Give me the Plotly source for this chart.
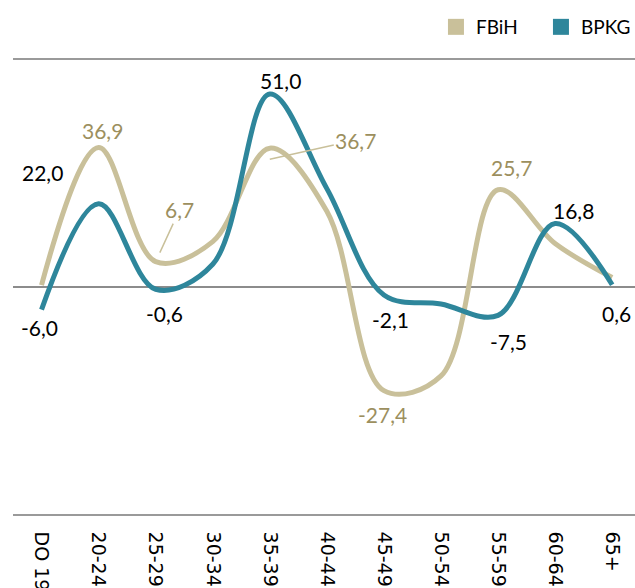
import plotly.graph_objects as go

categories = ["DO 19", "20-24", "25-29", "30-34", "35-39", "40-44", "45-49", "50-54", "55-59", "60-64", "65+"]
fbih = [0.5, 36.9, 6.7, 12.0, 36.7, 20.0, -27.4, -23.5, 25.7, 11.5, 2.5]
bpkg = [-6.0, 22.0, -0.6, 6.0, 51.0, 26.0, -2.1, -4.5, -7.5, 16.8, 0.6]

C_FBIH = "#c9c09a"
C_FBIH_TXT = "#9c8f5e"
C_BPKG = "#2e869b"

# labelled points: (category index, xshift, yshift)
fbih_labels = [(1, 4, 17), (8, 13, 22), (6, -1, -24)]
bpkg_labels = [(0, -2, -18), (1, -56, 31), (2, 9, -24), (4, 11, 14), (6, 7, -25), (8, 10, -26), (9, 18, 13), (10, 4, -29)]
# labels with leader lines: (category index, ax, ay, yshift, standoff)
fbih_leader = [(2, 24, -52, 0, 10), (4, 86, -19, -11, 0)]

def fmt(v):
    return f"{v:.1f}".replace(".", ",")

fig = go.Figure()
fig.add_trace(go.Scatter(x=categories, y=fbih, mode="lines", name="FBiH",
                         line=dict(color=C_FBIH, width=5, shape="spline", smoothing=1.0),
                         showlegend=False))
fig.add_trace(go.Scatter(x=categories, y=bpkg, mode="lines", name="BPKG",
                         line=dict(color=C_BPKG, width=5, shape="spline", smoothing=1.0),
                         showlegend=False))
# legend swatches
fig.add_trace(go.Scatter(x=[None], y=[None], mode="markers", name="FBiH",
                         marker=dict(symbol="square", size=16, color=C_FBIH)))
fig.add_trace(go.Scatter(x=[None], y=[None], mode="markers", name="BPKG",
                         marker=dict(symbol="square", size=16, color=C_BPKG)))

ann = []
for i, dx, dy in fbih_labels:
    ann.append(dict(x=categories[i], y=fbih[i], text=fmt(fbih[i]), showarrow=False,
                    xshift=dx, yshift=dy, font=dict(color=C_FBIH_TXT, size=21, family="Lato")))
for i, dx, dy in bpkg_labels:
    ann.append(dict(x=categories[i], y=bpkg[i], text=fmt(bpkg[i]), showarrow=False,
                    xshift=dx, yshift=dy, font=dict(color="#000000", size=21, family="Lato")))
for i, ax, ay, ys, so in fbih_leader:
    ann.append(dict(x=categories[i], y=fbih[i], text=fmt(fbih[i]), showarrow=True,
                    arrowhead=0, arrowwidth=1.5, arrowcolor=C_FBIH, ax=ax, ay=ay,
                    yshift=ys, standoff=so,
                    font=dict(color=C_FBIH_TXT, size=21, family="Lato")))

fig.update_layout(
    width=635, height=588,
    margin=dict(l=13, r=0, t=60, b=74, autoexpand=False),
    paper_bgcolor="white", plot_bgcolor="white",
    showlegend=True,
    legend=dict(orientation="h", x=0.680, xanchor="left", y=1.0727, yanchor="middle",
                font=dict(family="Lato", size=19, color="#000000"),
                entrywidth=60, itemwidth=30, bgcolor="rgba(0,0,0,0)"),
    annotations=ann,
    xaxis=dict(range=[-0.5, 10.4], showgrid=False, zeroline=False, automargin=False,
               showline=True, mirror=True, linecolor="#9a9a9a", linewidth=1.5,
               tickangle=90, ticks="", ticklabelstandoff=12,
               tickfont=dict(family="DejaVu Sans", size=19, color="#000000")),
    yaxis=dict(range=[-60, 60], tickvals=[-60, 0, 60], showticklabels=False,
               showgrid=False, automargin=False,
               zeroline=True, zerolinecolor="#8c8c8c", zerolinewidth=1.5,
               showline=False),
)

fig.write_html("out.html", config={"displayModeBar": False},
               post_script="document.body.style.margin='0';document.body.style.overflow='hidden';")
